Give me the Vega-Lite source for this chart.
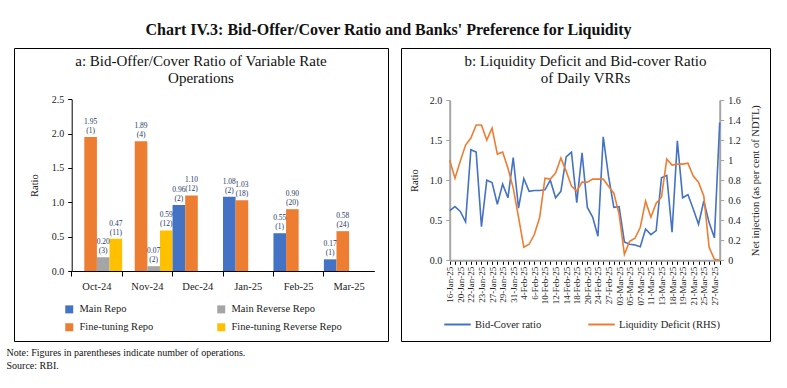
{
  "$schema": "https://vega.github.io/schema/vega-lite/v6.json",
  "background": "white",
  "padding": {"left": 6, "top": 21, "right": 5, "bottom": 5},
  "config": {
    "font": "Liberation Serif",
    "view": {"stroke": "#000", "strokeWidth": 1},
    "axis": {"labelFont": "Liberation Serif", "titleFont": "Liberation Serif", "grid": false, "labelColor": "#222", "titleColor": "#222", "titleFontWeight": "normal", "labelFontSize": 10, "titleFontSize": 10.5},
    "legend": {"labelFont": "Liberation Serif", "labelColor": "#222", "labelFontSize": 10.5},
    "title": {"font": "Liberation Serif", "color": "#111"}
  },
  "title": {"text": "Chart IV.3: Bid-Offer/Cover Ratio and Banks' Preference for Liquidity", "fontSize": 16, "fontWeight": "bold", "anchor": "middle", "offset": 10},
  "vconcat": [
    {
      "title": {"text": ["Note: Figures in parentheses indicate number of operations.", "Source: RBI."], "orient": "bottom", "anchor": "start", "fontSize": 10, "fontWeight": "normal", "lineHeight": 13, "offset": 6, "dx": -7},
      "spacing": 11,
      "resolve": {"scale": {"color": "independent"}, "legend": {"color": "independent"}},
      "hconcat": [
        {
          "width": 374,
          "height": 293,
          "title": {"text": ["a: Bid-Offer/Cover Ratio of Variable Rate", "Operations"], "fontSize": 15, "fontWeight": "normal", "lineHeight": 17, "offset": -38, "anchor": "middle", "frame": "group"},
          "data": {"values": [
            {"month": "Oct-24", "series": "Fine-tuning Repo", "value": 1.95, "ops": 1},
            {"month": "Oct-24", "series": "Main Reverse Repo", "value": 0.20, "ops": 3},
            {"month": "Oct-24", "series": "Fine-tuning Reverse Repo", "value": 0.47, "ops": 11},
            {"month": "Nov-24", "series": "Fine-tuning Repo", "value": 1.89, "ops": 4},
            {"month": "Nov-24", "series": "Main Reverse Repo", "value": 0.07, "ops": 2},
            {"month": "Nov-24", "series": "Fine-tuning Reverse Repo", "value": 0.59, "ops": 12},
            {"month": "Dec-24", "series": "Main Repo", "value": 0.96, "ops": 2},
            {"month": "Dec-24", "series": "Fine-tuning Repo", "value": 1.10, "ops": 12},
            {"month": "Jan-25", "series": "Main Repo", "value": 1.08, "ops": 2},
            {"month": "Jan-25", "series": "Fine-tuning Repo", "value": 1.03, "ops": 18},
            {"month": "Feb-25", "series": "Main Repo", "value": 0.55, "ops": 1},
            {"month": "Feb-25", "series": "Fine-tuning Repo", "value": 0.90, "ops": 20},
            {"month": "Mar-25", "series": "Main Repo", "value": 0.17, "ops": 1},
            {"month": "Mar-25", "series": "Fine-tuning Repo", "value": 0.58, "ops": 24}
          ]},
          "transform": [{"calculate": "'(' + datum.ops + ')'", "as": "opsLabel"}],
          "encoding": {
            "x": {"field": "month", "type": "nominal", "sort": null,
              "scale": {"range": [57.7, 360.3], "paddingInner": 0, "paddingOuter": 0},
              "axis": {"title": null, "labelAngle": 0, "offset": -70, "bandPosition": 0, "domainColor": "#000", "tickColor": "#000", "tickSize": 5, "labelPadding": 5, "labelFontSize": 10.5}},
            "xOffset": {"field": "series", "type": "nominal", "scale": {"domain": ["Main Repo", "Fine-tuning Repo", "Main Reverse Repo", "Fine-tuning Reverse Repo"], "paddingInner": 0}},
            "y": {"field": "value", "type": "quantitative",
              "scale": {"domain": [0, 2.5], "range": [223, 51.3], "nice": false},
              "axis": {"title": "Ratio", "values": [0, 0.5, 1, 1.5, 2, 2.5], "format": ".1f", "offset": -57.7, "domainColor": "#000", "tickColor": "#000", "tickSize": 4, "labelPadding": 4, "titlePadding": 12}}
          },
          "layer": [
            {"mark": {"type": "bar"},
             "encoding": {"color": {"field": "series", "type": "nominal",
               "scale": {"domain": ["Main Repo", "Fine-tuning Repo", "Main Reverse Repo", "Fine-tuning Reverse Repo"], "range": ["#4472C4", "#ED7D31", "#A5A5A5", "#FFC000"]},
               "legend": {"title": null, "orient": "none", "legendX": 50, "legendY": 256, "columns": 2, "symbolType": "square", "symbolSize": 64, "columnPadding": 62, "rowPadding": 7, "labelOffset": 5}}}},
            {"mark": {"type": "text", "baseline": "bottom", "dy": -2, "fontSize": 7.5, "color": "#1F3864"},
             "encoding": {"text": {"field": "opsLabel"}}},
            {"mark": {"type": "text", "baseline": "bottom", "dy": -11, "fontSize": 7.5, "color": "#1F3864"},
             "encoding": {"text": {"field": "value", "type": "quantitative", "format": ".2f"}}}
          ]
        },
        {
          "width": 369,
          "height": 293,
          "title": {"text": ["b: Liquidity Deficit and Bid-cover Ratio", "of Daily VRRs"], "fontSize": 15, "fontWeight": "normal", "lineHeight": 17, "offset": -38, "anchor": "middle", "frame": "group"},
          "data": {"values": [
            {"date": "16-Jan-25", "ratio": 0.62, "deficit": 1.00},
            {"date": "17-Jan-25", "ratio": 0.67, "deficit": 0.82},
            {"date": "20-Jan-25", "ratio": 0.61, "deficit": 0.99},
            {"date": "21-Jan-25", "ratio": 0.48, "deficit": 1.15},
            {"date": "22-Jan-25", "ratio": 1.38, "deficit": 1.22},
            {"date": "22-Jan-25 II", "ratio": 1.35, "deficit": 1.35},
            {"date": "23-Jan-25", "ratio": 0.42, "deficit": 1.35},
            {"date": "24-Jan-25", "ratio": 1.00, "deficit": 1.20},
            {"date": "27-Jan-25", "ratio": 0.97, "deficit": 1.32},
            {"date": "28-Jan-25", "ratio": 0.70, "deficit": 1.06},
            {"date": "29-Jan-25", "ratio": 0.95, "deficit": 1.08},
            {"date": "30-Jan-25", "ratio": 0.78, "deficit": 0.92},
            {"date": "31-Jan-25", "ratio": 1.28, "deficit": 0.72},
            {"date": "3-Feb-25", "ratio": 0.65, "deficit": 0.43},
            {"date": "4-Feb-25", "ratio": 1.02, "deficit": 0.13},
            {"date": "5-Feb-25", "ratio": 0.86, "deficit": 0.16},
            {"date": "6-Feb-25", "ratio": 0.87, "deficit": 0.26},
            {"date": "7-Feb-25", "ratio": 0.87, "deficit": 0.43},
            {"date": "10-Feb-25", "ratio": 0.88, "deficit": 0.82},
            {"date": "11-Feb-25", "ratio": 1.00, "deficit": 0.81},
            {"date": "12-Feb-25", "ratio": 0.78, "deficit": 0.87},
            {"date": "13-Feb-25", "ratio": 0.86, "deficit": 1.02},
            {"date": "14-Feb-25", "ratio": 1.29, "deficit": 0.89},
            {"date": "17-Feb-25", "ratio": 1.35, "deficit": 0.74},
            {"date": "18-Feb-25", "ratio": 0.72, "deficit": 0.69},
            {"date": "19-Feb-25", "ratio": 1.34, "deficit": 0.78},
            {"date": "20-Feb-25", "ratio": 0.66, "deficit": 0.78},
            {"date": "21-Feb-25", "ratio": 0.54, "deficit": 0.81},
            {"date": "24-Feb-25", "ratio": 0.30, "deficit": 0.81},
            {"date": "25-Feb-25", "ratio": 1.54, "deficit": 0.81},
            {"date": "27-Feb-25", "ratio": 1.05, "deficit": 0.74},
            {"date": "28-Feb-25", "ratio": 0.66, "deficit": 0.67},
            {"date": "03-Mar-25", "ratio": 0.67, "deficit": 0.46},
            {"date": "04-Mar-25", "ratio": 0.23, "deficit": 0.06},
            {"date": "05-Mar-25", "ratio": 0.20, "deficit": 0.19},
            {"date": "06-Mar-25", "ratio": 0.19, "deficit": 0.22},
            {"date": "07-Mar-25", "ratio": 0.17, "deficit": 0.33},
            {"date": "10-Mar-25", "ratio": 0.39, "deficit": 0.59},
            {"date": "11-Mar-25", "ratio": 0.32, "deficit": 0.43},
            {"date": "12-Mar-25", "ratio": 0.37, "deficit": 0.57},
            {"date": "13-Mar-25", "ratio": 1.03, "deficit": 0.63},
            {"date": "17-Mar-25", "ratio": 1.06, "deficit": 1.01},
            {"date": "18-Mar-25", "ratio": 0.35, "deficit": 0.95},
            {"date": "18-Mar-25 II", "ratio": 1.49, "deficit": 0.96},
            {"date": "19-Mar-25", "ratio": 0.78, "deficit": 0.96},
            {"date": "20-Mar-25", "ratio": 0.82, "deficit": 0.97},
            {"date": "21-Mar-25", "ratio": 0.64, "deficit": 0.84},
            {"date": "24-Mar-25", "ratio": 0.45, "deficit": 0.78},
            {"date": "25-Mar-25", "ratio": 0.74, "deficit": 0.64},
            {"date": "26-Mar-25", "ratio": 0.47, "deficit": 0.13},
            {"date": "27-Mar-25", "ratio": 0.28, "deficit": 0.01},
            {"date": "28-Mar-25", "ratio": 1.72, "deficit": 0.00}
          ]},
          "encoding": {
            "x": {"field": "date", "type": "ordinal", "sort": null,
              "scale": {"type": "point", "range": [48.7, 318.7], "padding": 0},
              "axis": {"title": null, "labelAngle": -90, "labelFontSize": 9, "labelPadding": 2, "labelOverlap": false, "offset": -80.7, "domainColor": "#A6A6A6", "domainWidth": 2, "tickColor": "#000", "tickSize": 4,
                "labelExpr": "indexof(['16-Jan-25','20-Jan-25','22-Jan-25','23-Jan-25','27-Jan-25','29-Jan-25','31-Jan-25','4-Feb-25','6-Feb-25','10-Feb-25','12-Feb-25','14-Feb-25','18-Feb-25','20-Feb-25','24-Feb-25','27-Feb-25','03-Mar-25','05-Mar-25','07-Mar-25','11-Mar-25','13-Mar-25','18-Mar-25','19-Mar-25','21-Mar-25','25-Mar-25','27-Mar-25'], datum.value) >= 0 ? datum.value : ''"}}
          },
          "layer": [
            {"mark": {"type": "line", "strokeWidth": 1.6},
             "encoding": {
               "y": {"field": "ratio", "type": "quantitative",
                 "scale": {"domain": [0, 2], "range": [212.3, 52], "nice": false},
                 "axis": {"orient": "left", "title": "Ratio", "values": [0, 0.5, 1, 1.5, 2], "format": ".1f", "offset": -48.7, "domainColor": "#A6A6A6", "domainWidth": 2, "tickColor": "#A6A6A6", "tickSize": 4, "labelPadding": 4, "titlePadding": 10}},
               "color": {"datum": "Bid-Cover ratio",
                 "scale": {"domain": ["Bid-Cover ratio", "Liquidity Deficit (RHS)"], "range": ["#4472C4", "#ED7D31"]},
                 "legend": {"title": null, "orient": "none", "legendX": 42, "legendY": 262, "columns": 2, "symbolType": "stroke", "symbolSize": 700, "symbolStrokeWidth": 2, "columnPadding": 42, "labelOffset": 3}}}},
            {"mark": {"type": "line", "strokeWidth": 1.6},
             "encoding": {
               "y": {"field": "deficit", "type": "quantitative",
                 "scale": {"domain": [0, 1.6], "range": [212.3, 52], "nice": false},
                 "axis": {"orient": "right", "title": "Net injection (as per cent of NDTL)", "titleAngle": -90, "values": [0, 0.2, 0.4, 0.6, 0.8, 1, 1.2, 1.4, 1.6], "format": "~g", "offset": -50.3, "domainColor": "#A6A6A6", "domainWidth": 2, "tickColor": "#A6A6A6", "tickSize": 4, "labelPadding": 4, "titlePadding": 20}},
               "color": {"datum": "Liquidity Deficit (RHS)"}}}
          ],
          "resolve": {"scale": {"y": "independent"}}
        }
      ]
    }
  ]
}
